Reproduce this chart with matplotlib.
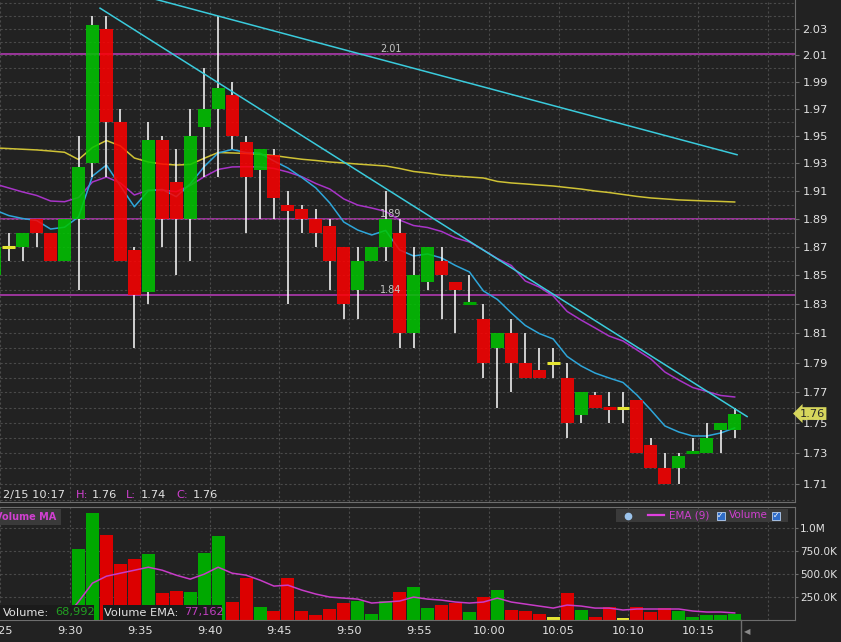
import numpy as np
import matplotlib
matplotlib.use('Agg')
import matplotlib.pyplot as plt
from matplotlib import transforms
from matplotlib.patches import Rectangle
from matplotlib.ticker import FixedLocator, FixedFormatter, NullFormatter, FormatStrFormatter

# one bar per minute, minutes after 9:30 (9:24 ... 10:17)
minutes = list(range(-6, 48))

opens = [1.85, 1.87, 1.87, 1.89, 1.88, 1.86,
         1.89, 1.93, 2.03, 1.96, 1.868, 1.838, 1.947, 1.916, 1.89, 1.956,
         1.97, 1.98, 1.945, 1.925, 1.936, 1.90, 1.897, 1.89, 1.885, 1.87,
         1.84, 1.86, 1.87, 1.88, 1.81, 1.845, 1.86, 1.845, 1.829, 1.82,
         1.80, 1.81, 1.79, 1.785, 1.79, 1.78, 1.755, 1.768, 1.761, 1.76,
         1.765, 1.735, 1.72, 1.72, 1.729, 1.73, 1.745, 1.745]
highs = [1.87, 1.88, 1.88, 1.89, 1.88, 1.89,
         1.95, 2.04, 2.04, 1.97, 1.87, 1.96, 1.95, 1.94, 1.97, 2.00,
         2.04, 1.99, 1.95, 1.94, 1.94, 1.91, 1.90, 1.897, 1.89, 1.87,
         1.87, 1.87, 1.91, 1.89, 1.87, 1.87, 1.87, 1.845, 1.85, 1.83,
         1.81, 1.82, 1.81, 1.80, 1.80, 1.79, 1.77, 1.77, 1.77, 1.77,
         1.765, 1.74, 1.73, 1.73, 1.74, 1.75, 1.75, 1.76]
lows = [1.85, 1.86, 1.86, 1.87, 1.86, 1.86,
        1.84, 1.92, 1.92, 1.86, 1.80, 1.83, 1.87, 1.85, 1.86, 1.92,
        1.92, 1.94, 1.88, 1.89, 1.89, 1.83, 1.88, 1.87, 1.84, 1.82,
        1.82, 1.86, 1.86, 1.80, 1.80, 1.84, 1.82, 1.81, 1.829, 1.78,
        1.76, 1.77, 1.78, 1.78, 1.78, 1.74, 1.75, 1.76, 1.75, 1.75,
        1.73, 1.72, 1.71, 1.71, 1.729, 1.73, 1.73, 1.74]
closes = [1.87, 1.87, 1.88, 1.88, 1.86, 1.89,
          1.927, 2.033, 1.96, 1.86, 1.836, 1.947, 1.89, 1.89, 1.95, 1.97,
          1.985, 1.95, 1.92, 1.94, 1.905, 1.895, 1.89, 1.88, 1.86, 1.83,
          1.86, 1.87, 1.89, 1.81, 1.85, 1.87, 1.85, 1.84, 1.831, 1.79,
          1.81, 1.79, 1.78, 1.78, 1.79, 1.75, 1.77, 1.76, 1.760, 1.76,
          1.73, 1.72, 1.71, 1.728, 1.731, 1.74, 1.75, 1.756]
volumes = [14000, 9000, 16000, 11000, 21000, 26000,
           772000, 1166000, 924000, 609000, 663000, 717000, 290000, 315000, 304000, 728000,
           913000, 199000, 460000, 145000, 101000, 460000, 98000, 54000, 123000, 188000,
           210000, 65000, 206000, 308000, 359000, 134000, 163000, 188000, 83000, 254000,
           326000, 109000, 98000, 65000, 33000, 290000, 109000, 36000, 138000, 22000,
           138000, 87000, 130000, 98000, 33000, 54000, 54000, 68992]
volume_ema = [16000, 15000, 15000, 14000, 16000, 19000,
              199000, 402000, 478000, 511000, 543000, 576000, 543000, 489000, 446000, 500000,
              576000, 511000, 489000, 435000, 370000, 380000, 326000, 283000, 250000, 239000,
              228000, 185000, 196000, 207000, 250000, 228000, 217000, 196000, 185000, 196000,
              239000, 196000, 174000, 152000, 130000, 163000, 152000, 130000, 130000, 109000,
              120000, 120000, 120000, 120000, 98000, 87000, 87000, 77162]

# moving averages on the price panel
ma_yellow = [1.941, 1.9405, 1.940, 1.9395, 1.9387, 1.9378,
             1.9325, 1.9413, 1.9464, 1.9424, 1.9336, 1.9307, 1.9292, 1.9285, 1.9289, 1.9334,
             1.9376, 1.9373, 1.9369, 1.9362, 1.9354, 1.9340, 1.9327, 1.9318, 1.9307, 1.9300,
             1.9292, 1.9285, 1.9278, 1.9260, 1.9238, 1.9227, 1.9213, 1.9205, 1.9198, 1.9191,
             1.9166, 1.9155, 1.9148, 1.9140, 1.9133, 1.9122, 1.9111, 1.9097, 1.9086, 1.9072,
             1.9058, 1.9047, 1.9040, 1.9033, 1.9029, 1.9025, 1.9022, 1.9018]
ma_purple = [1.9148, 1.9119, 1.9090, 1.9065, 1.9025, 1.9020,
             1.9050, 1.9162, 1.9198, 1.9155, 1.9068, 1.9104, 1.9104, 1.9092, 1.9137, 1.9200,
             1.9253, 1.9271, 1.9273, 1.9271, 1.9260, 1.9234, 1.9200, 1.9151, 1.9111, 1.9040,
             1.8996, 1.8975, 1.8950, 1.8889, 1.8850, 1.8836, 1.8808, 1.8762, 1.8733, 1.8677,
             1.8617, 1.8568, 1.8460, 1.8418, 1.8356, 1.8249, 1.8190, 1.8136, 1.8081, 1.8047,
             1.7986, 1.7925, 1.7837, 1.7783, 1.7733, 1.7707, 1.7680, 1.7670]
ma_blue = [1.8961, 1.8921, 1.8900, 1.8886, 1.8825, 1.8838,
           1.8911, 1.9205, 1.9285, 1.9133, 1.8984, 1.9099, 1.9108, 1.9056, 1.9148, 1.9273,
           1.9373, 1.9398, 1.9376, 1.9371, 1.9314, 1.9263, 1.9194, 1.9119, 1.9011, 1.8875,
           1.8818, 1.8783, 1.8815, 1.8677, 1.8635, 1.8649, 1.8621, 1.8568, 1.8523, 1.8391,
           1.8332, 1.8239, 1.8153, 1.8098, 1.8061, 1.7942, 1.7878, 1.7830, 1.7797, 1.7767,
           1.7683, 1.7583, 1.7478, 1.7438, 1.7412, 1.7412, 1.7432, 1.7465]

# drawn trend lines (minute, price) and horizontal levels
trend_a_x = [2.15, 48.5]
trend_a_y = [2.046, 1.754]
trend_b_x = [5.73, 47.78]
trend_b_y = [2.054, 1.936]
levels = [2.011, 1.89, 1.836]

time_ticks = [-5, 0, 5, 10, 15, 20, 25, 30, 35, 40, 45, 50]
time_labels = ['9:25', '9:30', '9:35', '9:40', '9:45', '9:50', '9:55',
               '10:00', '10:05', '10:10', '10:15', '']
price_ticks = [1.71, 1.73, 1.75, 1.77, 1.79, 1.81, 1.83, 1.85, 1.87, 1.89,
               1.91, 1.93, 1.95, 1.97, 1.99, 2.01, 2.03]
vol_ticks = [250000, 500000, 750000, 1000000]
vol_labels = ['250.0K', '500.0K', '750.0K', '1.0M']

bg = '#222222'
grid_col = '#4a4a4a'
spine_col = '#6e6e6e'
txt_col = '#e2e2e2'
magenta = '#d040d0'
up_col, down_col, flat_col = '#00a800', '#dc0000', '#e6e632'


def bar_colour(o, c):
    if c > o:
        return up_col
    if c < o:
        return down_col
    return flat_col


W, H = 841.0, 642.0


def fx(px):
    return px / W


def fy(py):
    return 1 - py / H


fig = plt.figure(figsize=(W / 100, H / 100), dpi=100, facecolor=bg)
ax = fig.add_axes([0, 140 / H, 795 / W, 502 / H], facecolor=bg)
axv = fig.add_axes([0, 22 / H, 795 / W, 113 / H], facecolor=bg)

xmid = np.array(minutes) + 0.61
bw = 0.93

# ---- price panel
for i, m in enumerate(minutes):
    o, h, l, c = opens[i], highs[i], lows[i], closes[i]
    lo, hi = min(o, c), max(o, c)
    col = bar_colour(o, c)
    if hi - lo < 0.003:
        ax.hlines(c, xmid[i] - bw / 2, xmid[i] + bw / 2, color=col, lw=2.2, zorder=3)
    else:
        face = {up_col: '#00c600', down_col: '#ff0000'}[col]
        ax.bar(xmid[i], hi - lo, bottom=lo, width=bw, color=face, alpha=0.85,
               linewidth=0, zorder=3)
    if h > hi:
        ax.vlines(xmid[i], hi, h, color='white', lw=1.1, zorder=2.5)
    if l < lo:
        ax.vlines(xmid[i], l, lo, color='white', lw=1.1, zorder=2.5)

ax.plot(xmid, ma_yellow, color='#cfc235', lw=1.1, zorder=2)
ax.plot(xmid, ma_purple, color='#a834c8', lw=1.1, zorder=2)
ax.plot(xmid, ma_blue, color='#2ea6da', lw=1.1, zorder=2)
ax.plot(trend_a_x, trend_a_y, color='#3acbdc', lw=1.1, zorder=5)
ax.plot(trend_b_x, trend_b_y, color='#3acbdc', lw=1.1, zorder=5)

lvl_trans = transforms.blended_transform_factory(ax.transAxes, ax.transData)
for v in levels:
    ax.axhline(v, color='#bd3cbd', lw=1.1, zorder=1.5)
    ax.text(0.492, v, f'{v:.2f}', transform=lvl_trans, ha='center', va='bottom',
            fontsize=7, color='#c4c4c4', zorder=6)

ax.set_yscale('log')
ax.set_ylim(1.6984, 2.0523)
ax.set_xlim(-5.014, 51.93)
ax.yaxis.set_major_locator(FixedLocator(price_ticks))
ax.yaxis.set_major_formatter(FormatStrFormatter('%.2f'))
ax.yaxis.set_minor_locator(FixedLocator(np.arange(1.70, 2.055, 0.01)))
ax.yaxis.set_minor_formatter(NullFormatter())
ax.yaxis.tick_right()
ax.tick_params(axis='y', which='major', length=3, color=spine_col, labelcolor=txt_col,
               labelsize=8.2, pad=2.5)
ax.tick_params(axis='y', which='minor', length=0)
ax.set_xticks(time_ticks)
ax.tick_params(axis='x', length=0, labelbottom=False)
ax.grid(True, which='both', axis='y', color=grid_col, ls=(0, (2, 2)), lw=0.8, zorder=0)
ax.grid(True, which='major', axis='x', color=grid_col, ls=(0, (2, 2)), lw=0.8, zorder=0)
for s in ['top', 'left']:
    ax.spines[s].set_visible(False)
for s in ['right', 'bottom']:
    ax.spines[s].set_color(spine_col)

# last price tag
ax.text(1.006, closes[-1], f'{closes[-1]:.2f}', transform=lvl_trans, ha='left', va='center',
        fontsize=8.2, color='#2a2a2a', clip_on=False, zorder=10,
        bbox=dict(boxstyle='larrow,pad=0.12', fc='#d6d65c', ec='none'))

# ---- volume panel
vcols = [bar_colour(o, c) for o, c in zip(opens, closes)]
axv.bar(xmid, volumes, width=bw, color=vcols, linewidth=0, zorder=2)
axv.plot(xmid, volume_ema, color='#c83cc8', lw=1.1, zorder=3)
axv.set_xlim(-5.014, 51.93)
axv.set_ylim(0, 1233000)
axv.set_xticks(time_ticks)
axv.set_xticklabels(time_labels)
axv.yaxis.tick_right()
axv.yaxis.set_major_locator(FixedLocator(vol_ticks))
axv.yaxis.set_major_formatter(FixedFormatter(vol_labels))
axv.tick_params(axis='y', length=2, color=spine_col, labelcolor=txt_col, labelsize=7.6, pad=1.5)
axv.tick_params(axis='x', length=0, labelcolor=txt_col, labelsize=8.2, pad=4)
axv.grid(True, color=grid_col, ls=(0, (2, 2)), lw=0.8, zorder=0)
axv.spines['left'].set_visible(False)
for s in ['top', 'right', 'bottom']:
    axv.spines[s].set_color(spine_col)

# ---- overlay texts and boxes
fig.text(fx(3), fy(495), '2/15 10:17', color=txt_col, fontsize=8.2, va='center')
info = [(76, 'H:', magenta), (92, f'{highs[-1]:.2f}', txt_col),
        (126, 'L:', magenta), (141, f'{lows[-1]:.2f}', txt_col),
        (176, 'C:', magenta), (193, f'{closes[-1]:.2f}', txt_col)]
for px, s, col in info:
    fig.text(fx(px), fy(495), s, color=col, fontsize=8.2, va='center')

fig.add_artist(Rectangle((0, fy(525)), fx(61), 16 / H, transform=fig.transFigure,
                         fc='#3a3a3a', ec='none', zorder=5))
fig.text(fx(-5), fy(517), 'Volume MA', color=magenta, fontsize=7, fontweight='bold',
         va='center', zorder=6)

fig.add_artist(Rectangle((fx(616), fy(522)), fx(172), 13 / H, transform=fig.transFigure,
                         fc='#3a3a3a', ec='none', zorder=5))
fig.add_artist(plt.Line2D([fx(628)], [fy(515.5)], marker='o', ms=4.5, color='#9cc4ec',
                          transform=fig.transFigure, zorder=6))
fig.add_artist(plt.Line2D([fx(648), fx(664)], [fy(515), fy(515)], color='#e040e0', lw=1.6,
                          transform=fig.transFigure, zorder=6))
fig.text(fx(669), fy(515.5), 'EMA (9)', color=magenta, fontsize=7.5, va='center', zorder=6)
fig.text(fx(729), fy(515.5), 'Volume', color=magenta, fontsize=7.5, va='center', zorder=6)
for px in [720.5, 776]:
    fig.add_artist(plt.Line2D([fx(px)], [fy(515.5)], marker='s', ms=6, mfc='#2f6cc8',
                              mec='#b8d0f0', mew=0.6, transform=fig.transFigure, zorder=6))
    fig.text(fx(px), fy(515.5), '\u2713', color='white', fontsize=5.5, ha='center',
             va='center', fontweight='bold', zorder=7)

fig.add_artist(Rectangle((0, fy(620)), fx(94), 15 / H, transform=fig.transFigure,
                         fc='#1b1b1b', ec='none', zorder=5))
fig.text(fx(3), fy(612.5), 'Volume:', color=txt_col, fontsize=8.2, va='center', zorder=6)
fig.text(fx(55), fy(612.5), f'{volumes[-1]:,}', color='#22a022', fontsize=8.2, va='center',
         zorder=6)
fig.add_artist(Rectangle((fx(103), fy(620)), fx(119), 15 / H, transform=fig.transFigure,
                         fc='#1b1b1b', ec='none', zorder=5))
fig.text(fx(104), fy(612.5), 'Volume EMA:', color=txt_col, fontsize=8.2, va='center', zorder=6)
fig.text(fx(184), fy(612.5), f'{volume_ema[-1]:,}', color='#c040c0', fontsize=8.2,
         va='center', zorder=6)

fig.add_artist(plt.Line2D([fx(741), fx(741)], [fy(620), 0], color=spine_col, lw=1,
                          transform=fig.transFigure))
fig.text(fx(747), fy(632), '\u25c0', color='#8a8a8a', fontsize=6, ha='center', va='center')

fig.savefig('out.png', dpi=100, facecolor=bg)
